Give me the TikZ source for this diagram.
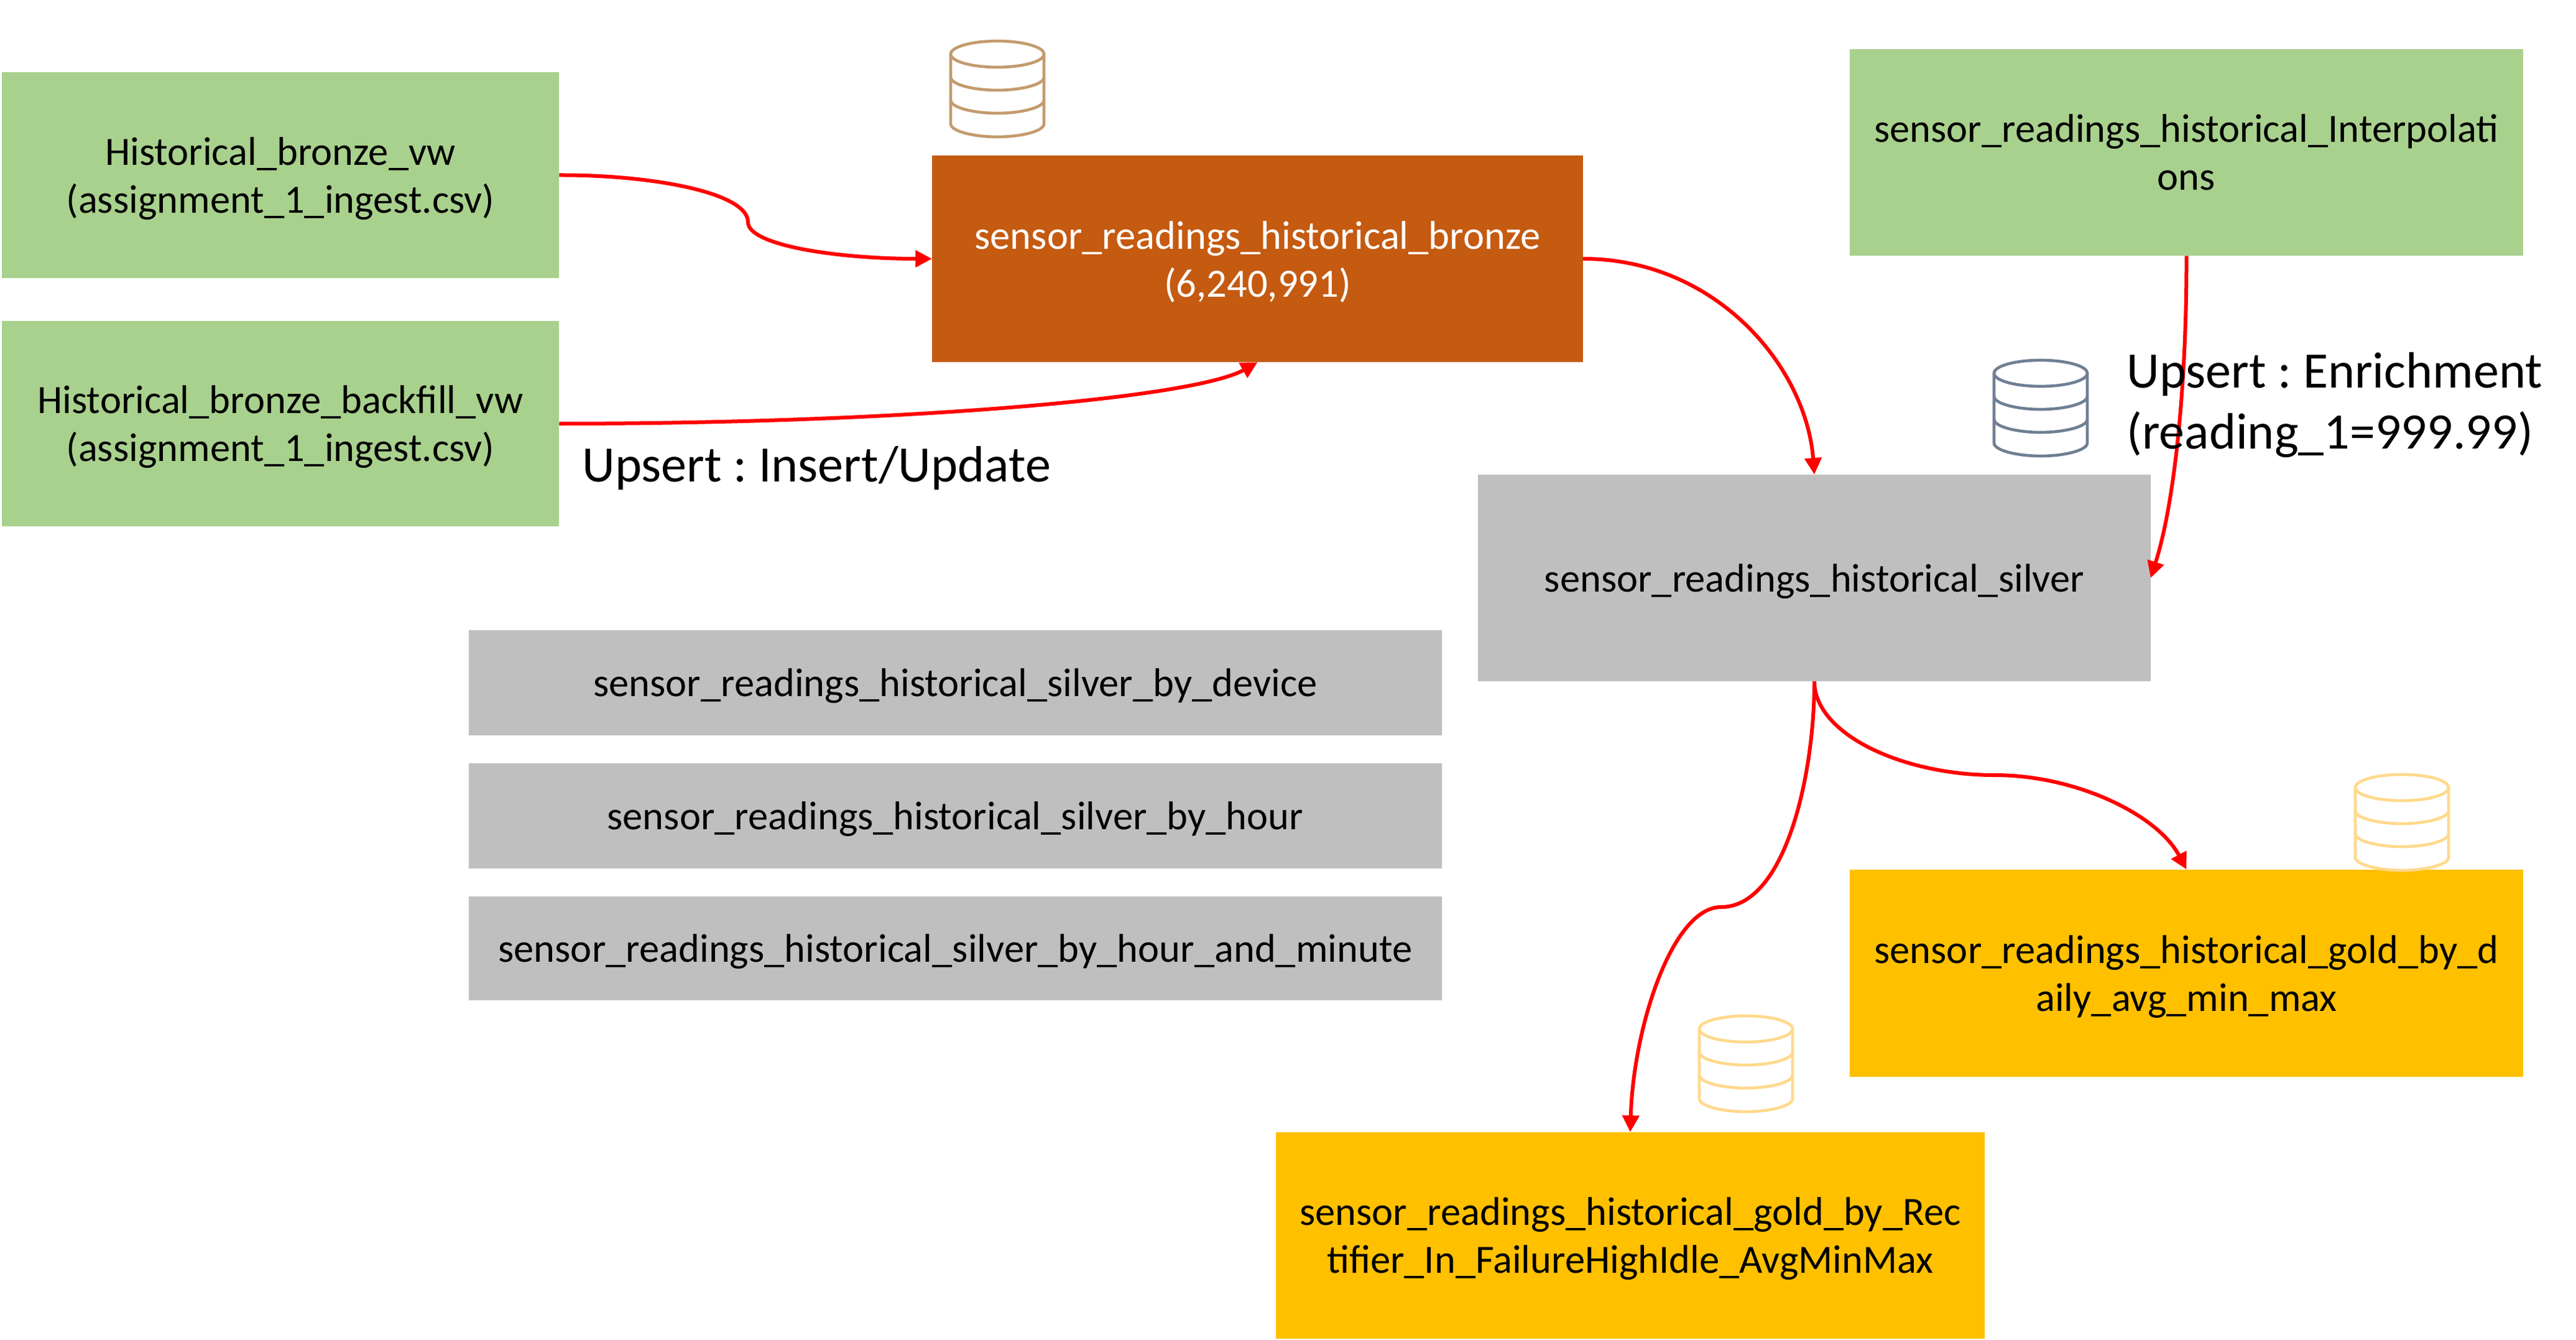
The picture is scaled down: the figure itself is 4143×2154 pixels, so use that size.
\documentclass[tikz,border=0pt]{standalone}
\usepackage{fontspec}
\setmainfont{Carlito}
\usetikzlibrary{arrows.meta}
\definecolor{srcgreen}{HTML}{A9D18E}
\definecolor{bronzefill}{HTML}{C55A11}
\definecolor{silverfill}{HTML}{BFBFBF}
\definecolor{goldfill}{HTML}{FFC000}
\definecolor{bronzeicon}{HTML}{C39B6E}
\definecolor{silvericon}{HTML}{6F7F94}
\definecolor{goldicon}{HTML}{FFD98C}
\newcommand{\lowerline}[1]{\raisebox{-4pt}[\height][\depth]{#1}}
\tikzset{
  box/.style={inner sep=0pt,align=center,font=\fontsize{48.4}{58}\selectfont},
  srcbox/.style={box,fill=srcgreen},
  bronzebox/.style={box,fill=bronzefill,text=white},
  silverbox/.style={box,fill=silverfill},
  goldbox/.style={box,fill=goldfill},
  flow/.style={draw=red,line width=4.5pt,-{Triangle[length=20pt,width=20pt]}},
  note/.style={inner sep=0pt,align=left,font=\fontsize{61.6}{74}\selectfont\frenchspacing},
  dbicon/.pic={
    \draw[line width=3.5pt,pic actions] (75,21) ellipse [x radius=75,y radius=21];
    \draw[line width=3.5pt,pic actions] (0,21) -- (0,133) .. controls (0,145) and (37,154) .. (75,154) .. controls (113,154) and (150,145) .. (150,133) -- (150,21);
    \draw[line width=3.5pt,pic actions] (0,58) .. controls (0,70) and (37,79) .. (75,79) .. controls (113,79) and (150,70) .. (150,58);
    \draw[line width=3.5pt,pic actions] (0,95) .. controls (0,107) and (37,116) .. (75,116) .. controls (113,116) and (150,107) .. (150,95);
  }
}
\begin{document}
\begin{tikzpicture}[x=0.75pt,y=0.75pt,yscale=-1,xscale=1]
\useasboundingbox (0,0) rectangle (4143,2154);
% sources
\node (bronzevw) [srcbox,minimum width=672pt,minimum height=248pt] at (451,281.5) {\lowerline{Historical\_bronze\_vw}\\\lowerline{(assignment\_1\_ingest.csv)}};
\node (backfillvw) [srcbox,minimum width=672pt,minimum height=248pt] at (451,681) {\lowerline{Historical\_bronze\_backfill\_vw}\\\lowerline{(assignment\_1\_ingest.csv)}};
\node (interp) [srcbox,minimum width=812pt,minimum height=249pt] at (3516.5,245) {sensor\_readings\_historical\_Interpolati\\ons};
% tables
\node (bronze) [bronzebox,minimum width=785pt,minimum height=249pt] at (2022.5,416) {\lowerline{sensor\_readings\_historical\_bronze}\\\lowerline{(6,240,991)}};
\node (silver) [silverbox,minimum width=811pt,minimum height=249pt] at (2918,929) {\lowerline{sensor\_readings\_historical\_silver}};
\node (bydevice) [silverbox,minimum width=1174pt,minimum height=127pt] at (1536.5,1097.5) {\lowerline{sensor\_readings\_historical\_silver\_by\_device}};
\node (byhour) [silverbox,minimum width=1174pt,minimum height=127pt] at (1536.5,1311.5) {\lowerline{sensor\_readings\_historical\_silver\_by\_hour}};
\node (byminute) [silverbox,minimum width=1174pt,minimum height=125pt] at (1536.5,1524.5) {\lowerline{sensor\_readings\_historical\_silver\_by\_hour\_and\_minute}};
\node (golddaily) [goldbox,minimum width=812pt,minimum height=250pt] at (3516.5,1564.5) {\lowerline{sensor\_readings\_historical\_gold\_by\_d}\\\lowerline{aily\_avg\_min\_max}};
\node (goldrect) [goldbox,minimum width=855pt,minimum height=249pt] at (2622,1986) {\lowerline{sensor\_readings\_historical\_gold\_by\_Rec}\\\lowerline{tifier\_In\_FailureHighIdle\_AvgMinMax}};
% icons
\pic [draw=bronzeicon,transform shape] at (1529,66) {dbicon};
\pic [draw=silvericon,transform shape] at (3207,579) {dbicon};
\pic [draw=goldicon,transform shape] at (3788,1245) {dbicon};
\pic [draw=goldicon,transform shape] at (2733,1633) {dbicon};
% bends
\coordinate (bendA) at (1203,357);
\coordinate (bendB) at (2768,1458);
\coordinate (bendC) at (3208,1246);
% flows
\draw[flow] (bronzevw.east) .. controls (1050,281) and (1203,310) .. (bendA) .. controls (1203,395) and (1350,416) .. (bronze.west);
\draw[flow] (backfillvw.east) .. controls (1450,681) and (1920,640) .. (bronze.south);
\draw[flow] (bronze.east) .. controls (2760,416) and (2905,590) .. (silver.north);
\draw[flow] (interp.south) .. controls (3517,600) and (3500,800) .. (silver.east);
\draw[flow] (silver.south) .. controls (2918,1250) and (2870,1458) .. (bendB) .. controls (2690,1458) and (2627,1650) .. (goldrect.north);
\draw[flow] (silver.south) .. controls (2918,1180) and (3060,1246) .. (bendC) .. controls (3340,1246) and (3470,1310) .. (golddaily.north);
% notes
\node (insertnote) [note,anchor=west] at (936,753) {Upsert : Insert/Update};
\node (enrichnote) [note,anchor=west] at (3420,651) {Upsert : Enrichment\\(reading\_1=999.99)};
\end{tikzpicture}
\end{document}
